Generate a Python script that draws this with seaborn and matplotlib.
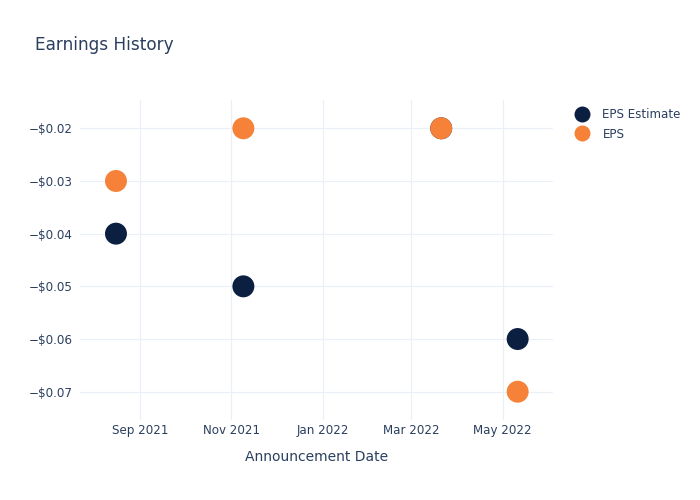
import matplotlib
matplotlib.use("Agg")
import matplotlib.pyplot as plt
import matplotlib.dates as mdates
from matplotlib.ticker import FuncFormatter
from matplotlib.lines import Line2D
import seaborn as sns
import pandas as pd

dates = ["2021-08-16", "2021-11-09", "2022-03-21", "2022-05-11"]
eps_estimate = [-0.04, -0.05, -0.02, -0.06]
eps_actual = [-0.03, -0.02, -0.02, -0.07]
series_names = ["EPS Estimate", "EPS"]
colors = ["#0b1f41", "#f6823a"]
text_color = "#2a3f5f"
grid_color = "#ebf0f8"

df = pd.DataFrame({
    "date": pd.to_datetime(dates * 2),
    "value": eps_estimate + eps_actual,
    "series": [series_names[0]] * len(dates) + [series_names[1]] * len(dates),
})

sns.set_theme(style="white")
plt.rcParams["font.family"] = ["DejaVu Sans"]

fig = plt.figure(figsize=(7, 5), dpi=100)
ax = fig.add_axes([80 / 700, 80 / 500, 473 / 700, 320 / 500])

sns.scatterplot(data=df, x="date", y="value", hue="series",
                palette=dict(zip(series_names, colors)), s=250,
                edgecolor="none", ax=ax, legend=False, zorder=3)

ax.set_xlim(pd.Timestamp("2021-07-23"), pd.Timestamp("2022-06-03 14:00"))
ax.set_ylim(-0.07537, -0.01463)
ax.xaxis.set_major_locator(mdates.MonthLocator(bymonth=[1, 3, 5, 7, 9, 11]))
ax.xaxis.set_major_formatter(mdates.DateFormatter("%b %Y"))
ax.set_yticks([-0.07, -0.06, -0.05, -0.04, -0.03, -0.02])
ax.yaxis.set_major_formatter(FuncFormatter(
    lambda v, p: ("\u2212" if v < 0 else "") + "${:.2f}".format(abs(v))))

ax.grid(True, color=grid_color, linewidth=0.9)
ax.set_axisbelow(True)
for sp in ax.spines.values():
    sp.set_visible(False)
ax.tick_params(axis="both", length=0, labelsize=8.6, colors=text_color)
ax.tick_params(axis="x", pad=3)
ax.tick_params(axis="y", pad=5)
ax.set_xlabel("Announcement Date", fontsize=10, color=text_color, labelpad=9.5)
ax.set_ylabel("")

fig.text(35 / 700, 1 - 44.5 / 500, "Earnings History", fontsize=12.2,
         color=text_color, va="center", ha="left")

handles = [Line2D([0], [0], marker="o", linestyle="none", markersize=11.5,
                  markerfacecolor=c, markeredgecolor="none") for c in colors]
fig.legend(handles, series_names, loc="upper left",
           bbox_to_anchor=(575 / 700, 1 - 108 / 500), frameon=False,
           fontsize=8.6, labelcolor=text_color, handletextpad=1.1,
           labelspacing=0.55, borderaxespad=0, borderpad=0, handlelength=1.2)

fig.savefig("out.png", dpi=100)
